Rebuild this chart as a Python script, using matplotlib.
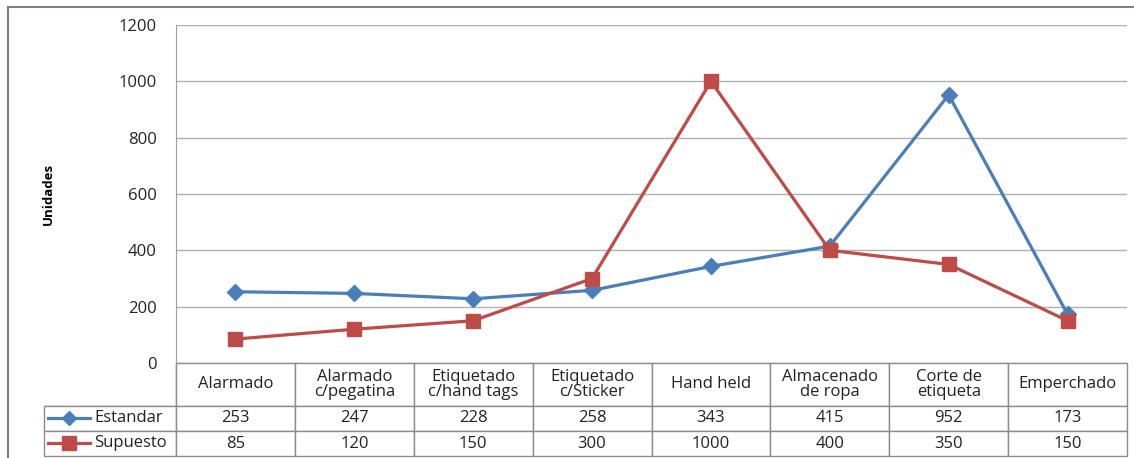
import matplotlib
matplotlib.use('Agg')
import matplotlib.pyplot as plt
from matplotlib.lines import Line2D
from matplotlib.table import Table
import numpy as np

plt.rcParams['font.family'] = ['Open Sans', 'DejaVu Sans']
plt.rcParams['font.size'] = 12

categorias = ['Alarmado', 'Alarmado\nc/pegatina', 'Etiquetado\nc/hand tags',
              'Etiquetado\nc/Sticker', 'Hand held', 'Almacenado\nde ropa',
              'Corte de\netiqueta', 'Emperchado']
estandar = [253, 247, 228, 258, 343, 415, 952, 173]
supuesto = [85, 120, 150, 300, 1000, 400, 350, 150]
series = ['Estandar', 'Supuesto']
azul = '#4A7EBB'
rojo = '#BE4B48'
gris = '#8C8C8C'
texto = '#222222'

W, H = 1134, 458
fig = plt.figure(figsize=(W / 100, H / 100), dpi=100)
ax = fig.add_axes([176 / W, (H - 363) / H, (1127 - 176) / W, (363 - 25) / H])

x = np.arange(len(categorias)) + 0.5
ax.plot(x, estandar, color=azul, lw=2.3, marker='D', ms=8, zorder=3)
ax.plot(x, supuesto, color=rojo, lw=2.3, marker='s', ms=10, zorder=3)

ax.set_xlim(0, len(categorias))
ax.set_ylim(0, 1200)
ax.set_yticks(range(0, 1201, 200))
ax.set_xticks([])
ax.tick_params(axis='y', length=0, pad=14, labelsize=12, colors=texto)
ax.grid(axis='y', color='#B0B0B0', lw=1)
for s in ['top', 'right', 'bottom']:
    ax.spines[s].set_visible(False)
ax.spines['left'].set_color('#A0A0A0')
ax.set_ylabel('Unidades', fontsize=9.5, fontweight='bold')
ax.yaxis.set_label_coords((55 - 176) / (1127 - 176), 0.5)

# tabla de datos bajo el gráfico
axw = 1127 - 176
axh = 363 - 25
def fx(px):
    return (px - 176) / axw
def fy(py):
    return (363 - py) / axh

tab = Table(ax, bbox=None)
lab_w = (176 - 44) / axw
col_w = 1 / len(categorias)
h0 = 43 / axh
h1 = 25 / axh
filas = [estandar, supuesto]
for j, c in enumerate(categorias):
    tab.add_cell(0, j + 1, width=col_w, height=h0, text=c, loc='center',
                 edgecolor=gris)
cero = tab.add_cell(0, 0, width=lab_w, height=h0, text='', edgecolor=gris)
cero.visible_edges = 'BR'
for i, (nombre, vals) in enumerate(zip(series, filas)):
    tab.add_cell(i + 1, 0, width=lab_w, height=h1, text='', edgecolor=gris)
    for j, v in enumerate(vals):
        tab.add_cell(i + 1, j + 1, width=col_w, height=h1, text=str(v),
                     loc='center', edgecolor=gris)
tab.auto_set_font_size(False)
tab.set_fontsize(12)
for (r, c), cell in tab.get_celld().items():
    cell.set_linewidth(1)
    cell.get_text().set_color(texto)
    cell.get_text().set_linespacing(0.95)
tab._bbox = [fx(44), fy(456), 1 - fx(44), fy(363) - fy(456)]
tab.set_clip_on(False)
ax.add_table(tab)

# etiquetas de fila con marcador de leyenda
for i, (nombre, col, mk, ms) in enumerate(zip(series, [azul, rojo], ['D', 's'], [7, 10])):
    yc = fy(418 + i * 25)
    ax.add_line(Line2D([fx(48), fx(90)], [yc, yc], color=col, lw=2.3,
                       transform=ax.transAxes, clip_on=False))
    ax.add_line(Line2D([fx(69)], [yc], color=col, marker=mk, ms=ms,
                       transform=ax.transAxes, clip_on=False))
    ax.text(fx(94), yc, nombre, transform=ax.transAxes, ha='left',
            va='center', fontsize=12, color=texto)

# marco exterior
fig.add_artist(Line2D([8 / W, 8 / W], [0, 1 - 7 / H], color='#808080', lw=1.5))
fig.add_artist(Line2D([8 / W, 1], [1 - 7 / H, 1 - 7 / H], color='#808080', lw=1.5))

fig.savefig('out.png', dpi=100)
